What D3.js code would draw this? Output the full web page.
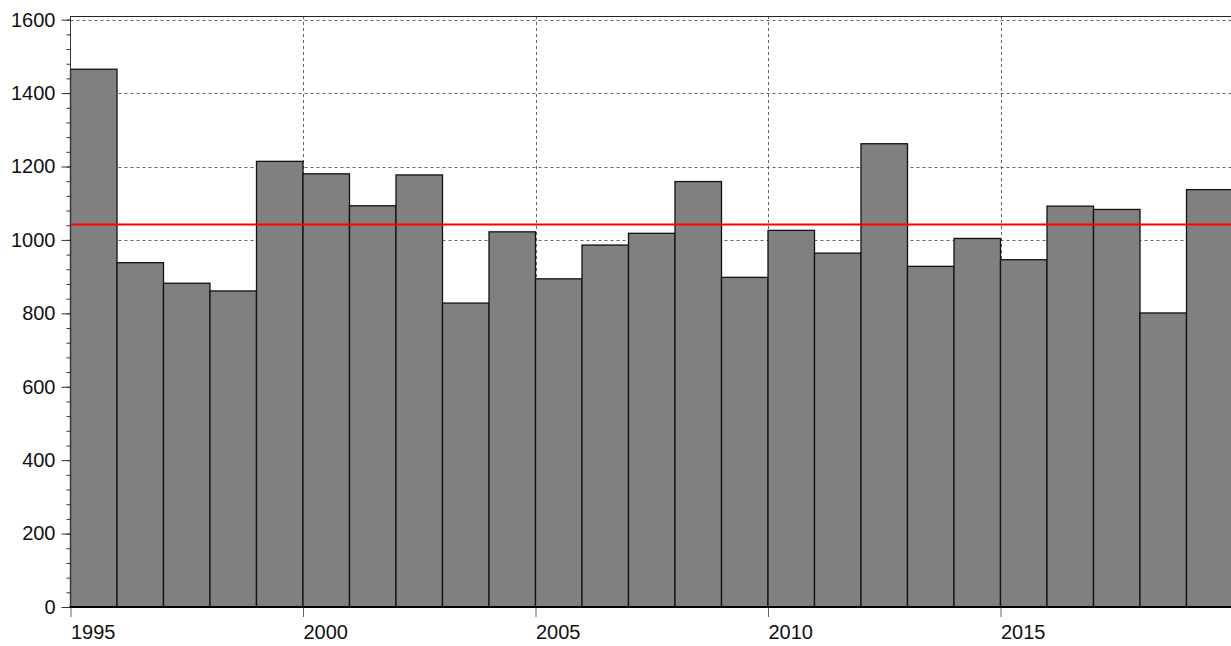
<!DOCTYPE html>
<html>
<head>
<meta charset="utf-8">
<script src="https://cdn.jsdelivr.net/npm/d3@7"></script>
<style>
  body { margin: 0; background: #fff; }
  svg { display: block; font-family: "Liberation Sans", Arial, sans-serif; }
</style>
</head>
<body>
<div id="chart"></div>
<script>
// data
var years = [1995, 1996, 1997, 1998, 1999, 2000, 2001, 2002, 2003, 2004, 2005, 2006,
  2007, 2008, 2009, 2010, 2011, 2012, 2013, 2014, 2015, 2016, 2017, 2018, 2019];
var values = [1465, 938, 882, 861, 1214, 1180, 1093, 1177, 828, 1022, 894, 986,
  1018, 1159, 898, 1026, 964, 1262, 928, 1004, 946, 1092, 1083, 801, 1137];
var meanLine = 1042;
var yTicks = [0, 200, 400, 600, 800, 1000, 1200, 1400, 1600];
var xTicks = [1995, 2000, 2005, 2010, 2015];

var W = 1231, H = 646;
var plotLeft = 70.5, plotTop = 16, plotBottom = 607;

var svg = d3.select('#chart').append('svg')
  .attr('width', W)
  .attr('height', H);

var x = d3.scaleLinear().domain([1995, 2020]).range([plotLeft, plotLeft + 25 * 46.5]);
var y = d3.scaleLinear().domain([0, 1610]).range([plotBottom, plotTop]);

var minorTicks = d3.range(0, 1601, 40);

// gridlines
svg.append('g').selectAll('line')
  .data(yTicks.slice(1))
  .enter().append('line')
  .attr('x1', plotLeft).attr('x2', W)
  .attr('y1', function(d) { return Math.round(y(d)) + 0.5; })
  .attr('y2', function(d) { return Math.round(y(d)) + 0.5; })
  .attr('stroke', '#666')
  .attr('stroke-dasharray', '3,3');

svg.append('g').selectAll('line')
  .data(xTicks.slice(1))
  .enter().append('line')
  .attr('x1', function(d) { return Math.round(x(d)) + 0.5; })
  .attr('x2', function(d) { return Math.round(x(d)) + 0.5; })
  .attr('y1', plotTop).attr('y2', plotBottom)
  .attr('stroke', '#666')
  .attr('stroke-dasharray', '3,3');

// top border
svg.append('line')
  .attr('x1', plotLeft).attr('x2', W)
  .attr('y1', plotTop + 0.5).attr('y2', plotTop + 0.5)
  .attr('stroke', '#222');

// bars
svg.append('g').selectAll('rect')
  .data(years)
  .enter().append('rect')
  .attr('x', function(d) { return x(d); })
  .attr('width', function(d) { return x(d + 1) - x(d); })
  .attr('y', function(d, i) { return y(values[i]); })
  .attr('height', function(d, i) { return plotBottom - y(values[i]); })
  .attr('fill', '#808080')
  .attr('stroke', '#111')
  .attr('stroke-width', 1.3);

// mean line
svg.append('line')
  .attr('x1', plotLeft).attr('x2', W)
  .attr('y1', y(meanLine)).attr('y2', y(meanLine))
  .attr('stroke', '#ff0000')
  .attr('stroke-width', 2);

// y axis minor ticks
var yMinor = svg.append('g')
  .attr('transform', 'translate(' + plotLeft + ',0)')
  .call(d3.axisLeft(y).tickValues(minorTicks).tickSize(4).tickFormat(''));
yMinor.select('.domain').remove();
yMinor.selectAll('line').attr('stroke', '#333');

// y axis
var yAxis = svg.append('g')
  .attr('transform', 'translate(' + plotLeft + ',0)')
  .call(d3.axisLeft(y).tickValues(yTicks).tickSize(9).tickPadding(6).tickSizeOuter(0).tickFormat(d3.format('d')));
yAxis.select('.domain').attr('stroke', '#333').attr('d', 'M0,' + plotTop + 'V' + plotBottom);
yAxis.selectAll('line').attr('stroke', '#333');
yAxis.selectAll('text')
  .attr('fill', '#111')
  .style('font-size', '20px');

// x axis
var xAxis = svg.append('g')
  .attr('transform', 'translate(0,' + plotBottom + ')')
  .call(d3.axisBottom(x).tickValues(xTicks).tickSize(10).tickPadding(8).tickFormat(d3.format('d')));
xAxis.select('.domain').remove();
xAxis.selectAll('line').attr('stroke', '#666');
xAxis.selectAll('text')
  .attr('text-anchor', 'start')
  .attr('fill', '#111')
  .style('font-size', '20px');

svg.append('line')
  .attr('x1', plotLeft - 1).attr('x2', W)
  .attr('y1', plotBottom).attr('y2', plotBottom)
  .attr('stroke', '#000')
  .attr('stroke-width', 2);
</script>
</body>
</html>
